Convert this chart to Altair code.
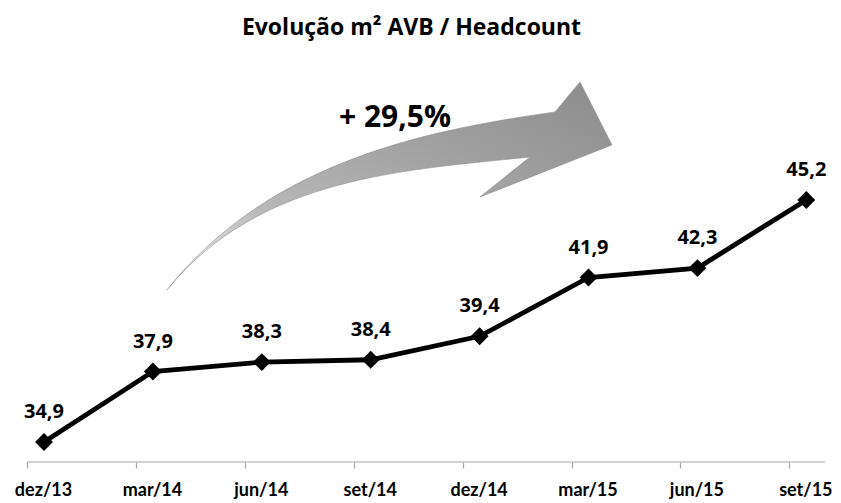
import altair as alt
import pandas as pd

categories = ["dez/13", "mar/14", "jun/14", "set/14", "dez/14", "mar/15", "jun/15", "set/15"]
values = [34.9, 37.9, 38.3, 38.4, 39.4, 41.9, 42.3, 45.2]
labels = [f"{v:.1f}".replace(".", ",") for v in values]

title_text = "Evolução m² AVB / Headcount"
growth_text = "+ 29,5%"

df = pd.DataFrame({"idx": list(range(len(categories))), "cat": categories,
                   "value": values, "label": labels})

W, H = 825, 404
xscale = alt.Scale(domain=[-0.3306, 7.245], nice=False, zero=False)
yscale = alt.Scale(domain=[34.05, 51.24], nice=False, zero=False)

tick_shift = 0.156
tick_vals = [i - tick_shift for i in range(len(categories))]
cat_js = "[" + ",".join(f"'{c}'" for c in categories) + "]"

xaxis = alt.Axis(values=tick_vals, labelExpr=f"{cat_js}[round(datum.value + {tick_shift})]",
                 grid=False, domain=False, ticks=True, tickColor="#a6a6a6", tickSize=6,
                 tickWidth=1.2, labelFont="Lato", labelFontWeight="bold", labelFontSize=18,
                 labelColor="black", labelOffset=16, labelPadding=13, labelFlush=False,
                 labelOverlap=False, labelBound=False, title=None)

X = alt.X("idx:Q", scale=xscale, axis=xaxis)
Y = alt.Y("value:Q", scale=yscale, axis=None)

base = alt.Chart(df)

# decorative growth arrow (annotation), anchored in data coordinates
arrow_df = pd.DataFrame({"idx": [3.177], "value": [45.2]})
arrow_path = ("M -223 90 C -120 -40 40 -70 165 -88 L 190 -118 L 222 -55 L 90 -3 "
              "L 140 -43 C 20 -30 -130 -25 -223 90 Z")
grad = alt.Gradient(gradient="linear", x1=0, y1=1, x2=1, y2=0,
                    stops=[alt.GradientStop(color="#f4f4f4", offset=0),
                           alt.GradientStop(color="#b8b8b8", offset=0.3),
                           alt.GradientStop(color="#a0a0a0", offset=0.65),
                           alt.GradientStop(color="#8c8c8c", offset=1)])
arrow = alt.Chart(arrow_df).mark_point(shape=arrow_path, size=4, filled=True, fill=grad,
                                       opacity=1, stroke="#8f8f8f", strokeWidth=0.6).encode(
    x=X, y=Y)

growth_df = pd.DataFrame({"idx": [3.223], "value": [48.69], "t": [growth_text]})
growth = alt.Chart(growth_df).mark_text(font="Open Sans", fontWeight="bold", fontSize=30,
                                        baseline="middle", color="black").encode(
    x=X, y=Y, text="t:N")

axis_df = pd.DataFrame({"idx": [-tick_shift], "idx2": [7.172]})
axis_line = alt.Chart(axis_df).mark_rule(color="#a6a6a6", strokeWidth=1.2).encode(
    x=X, x2="idx2:Q", y=alt.value(H))

line = base.mark_line(color="black", strokeWidth=4.8).encode(x=X, y=Y)
pts = base.mark_point(shape="diamond", filled=True, size=320, color="black", opacity=1).encode(x=X, y=Y)
txt = base.mark_text(dy=-30, font="Open Sans", fontWeight="bold", fontSize=20,
                     baseline="middle", color="black").encode(x=X, y=Y, text="label:N")

chart = alt.layer(arrow, growth, axis_line, line, pts, txt).properties(
    width=W, height=H,
    padding={"left": 0, "right": 0, "top": 50, "bottom": 41},
    autosize=alt.AutoSizeParams(type="none"),
    title=alt.TitleParams(text=title_text, font="Open Sans", fontSize=23, fontWeight="bold",
                          anchor="middle", dx=-9, offset=0, baseline="alphabetic", color="black"),
    background="white",
).configure_view(stroke=None)

chart.save("out.html", embed_options={"renderer": "svg", "actions": False})
